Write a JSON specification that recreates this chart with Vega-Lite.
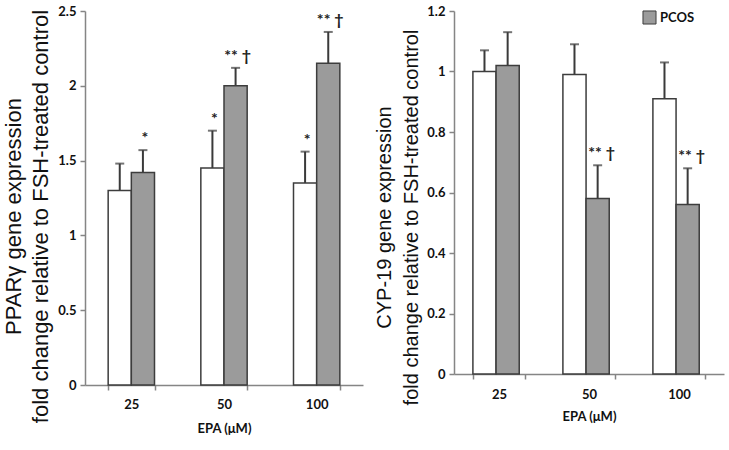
{
  "$schema": "https://vega.github.io/schema/vega-lite/v6.json",
  "background": "white",
  "padding": {"left": 2, "top": 5, "right": 4, "bottom": 4},
  "spacing": 11,
  "datasets": {
    "ppar": [
      {"dose": "25", "group": "Control", "value": 1.30, "upper": 1.48, "label": ""},
      {"dose": "25", "group": "PCOS", "value": 1.42, "upper": 1.57, "label": "*"},
      {"dose": "50", "group": "Control", "value": 1.45, "upper": 1.70, "label": "*"},
      {"dose": "50", "group": "PCOS", "value": 2.00, "upper": 2.12, "label": "** †"},
      {"dose": "100", "group": "Control", "value": 1.35, "upper": 1.56, "label": "*"},
      {"dose": "100", "group": "PCOS", "value": 2.15, "upper": 2.36, "label": "** †"}
    ],
    "cyp": [
      {"dose": "25", "group": "Control", "value": 1.00, "upper": 1.07, "label": ""},
      {"dose": "25", "group": "PCOS", "value": 1.02, "upper": 1.13, "label": ""},
      {"dose": "50", "group": "Control", "value": 0.99, "upper": 1.09, "label": ""},
      {"dose": "50", "group": "PCOS", "value": 0.58, "upper": 0.69, "label": "** †"},
      {"dose": "100", "group": "Control", "value": 0.91, "upper": 1.03, "label": ""},
      {"dose": "100", "group": "PCOS", "value": 0.56, "upper": 0.68, "label": "** †"}
    ]
  },
  "config": {
    "view": {"stroke": null},
    "axis": {
      "grid": false,
      "domainColor": "#858585",
      "domainWidth": 1.5,
      "tickColor": "#858585",
      "tickWidth": 1.5,
      "tickSize": 5,
      "labelFont": "Lato",
      "labelFontWeight": "bold",
      "labelFontSize": 13,
      "labelColor": "#111",
      "titleColor": "#111"
    }
  },
  "resolve": {"legend": {"fill": "independent"}},
  "hconcat": [
    {
      "width": 278,
      "height": 374,
      "data": {"name": "ppar"},
      "encoding": {
        "x": {
          "field": "dose", "type": "nominal", "sort": ["25", "50", "100"],
          "scale": {"paddingInner": 0.5, "paddingOuter": 0.25},
          "axis": {"title": "EPA (μM)", "labelAngle": 0, "tickBand": "extent", "labelPadding": 8,
                   "titleFont": "Lato", "titleFontWeight": "bold", "titleFontSize": 13, "titlePadding": 11}
        },
        "xOffset": {"field": "group", "type": "nominal", "sort": ["Control", "PCOS"]}
      },
      "layer": [
        {
          "mark": {"type": "rule", "color": "#3a3a3a", "strokeWidth": 2},
          "encoding": {
            "y": {"field": "value", "type": "quantitative", "scale": {"domain": [0, 2.5], "nice": false}},
            "y2": {"field": "upper"}
          }
        },
        {
          "mark": {"type": "tick", "color": "#3a3a3a", "size": 9, "thickness": 2},
          "encoding": {"y": {"field": "upper", "type": "quantitative", "scale": {"domain": [0, 2.5], "nice": false}}}
        },
        {
          "mark": {"type": "bar", "stroke": "#3d3d3d", "strokeWidth": 1.5},
          "encoding": {
            "y": {
              "field": "value", "type": "quantitative",
              "scale": {"domain": [0, 2.5], "nice": false},
              "axis": {
                "values": [0, 0.5, 1, 1.5, 2, 2.5], "format": "~g",
                "title": ["PPARγ gene expression", "fold change relative to FSH-treated control"],
                "titleFont": "Liberation Sans", "titleFontSize": 22, "titleFontWeight": "normal",
                "titleLineHeight": 27, "titlePadding": 5, "labelPadding": 4, "titleY": 205
              }
            },
            "fill": {
              "field": "group", "type": "nominal",
              "scale": {"domain": ["Control", "PCOS"], "range": ["white", "#9b9b9b"]},
              "legend": null
            }
          }
        },
        {
          "transform": [{"filter": "datum.label != ''"}],
          "mark": {"type": "text", "baseline": "bottom", "dy": -4, "dx": 2, "font": "Lato", "fontSize": 16, "fontWeight": "bold", "color": "#222"},
          "encoding": {
            "y": {"field": "upper", "type": "quantitative", "scale": {"domain": [0, 2.5], "nice": false}},
            "text": {"field": "label"}
          }
        }
      ]
    },
    {
      "width": 270,
      "height": 363,
      "data": {"name": "cyp"},
      "encoding": {
        "x": {
          "field": "dose", "type": "nominal", "sort": ["25", "50", "100"],
          "scale": {"paddingInner": 0.42, "paddingOuter": 0.21},
          "axis": {"title": "EPA (μM)", "labelAngle": 0, "tickBand": "extent", "labelPadding": 9,
                   "titleFont": "Lato", "titleFontWeight": "bold", "titleFontSize": 13, "titlePadding": 9}
        },
        "xOffset": {"field": "group", "type": "nominal", "sort": ["Control", "PCOS"]}
      },
      "layer": [
        {
          "mark": {"type": "rule", "color": "#3a3a3a", "strokeWidth": 2},
          "encoding": {
            "y": {"field": "value", "type": "quantitative", "scale": {"domain": [0, 1.2], "nice": false}},
            "y2": {"field": "upper"}
          }
        },
        {
          "mark": {"type": "tick", "color": "#3a3a3a", "size": 9, "thickness": 2},
          "encoding": {"y": {"field": "upper", "type": "quantitative", "scale": {"domain": [0, 1.2], "nice": false}}}
        },
        {
          "mark": {"type": "bar", "stroke": "#3d3d3d", "strokeWidth": 1.5},
          "encoding": {
            "y": {
              "field": "value", "type": "quantitative",
              "scale": {"domain": [0, 1.2], "nice": false},
              "axis": {
                "values": [0, 0.2, 0.4, 0.6, 0.8, 1, 1.2], "format": "~g",
                "title": ["CYP-19 gene expression", "fold change relative to FSH-treated control"],
                "titleFont": "Liberation Sans", "titleFontSize": 20, "titleFontWeight": "normal",
                "titleLineHeight": 27, "titlePadding": 5, "labelPadding": 4, "titleY": 206
              }
            },
            "fill": {
              "field": "group", "type": "nominal",
              "scale": {"domain": ["Control", "PCOS"], "range": ["white", "#9b9b9b"]},
              "legend": {
                "values": ["PCOS"], "title": null, "orient": "none", "legendX": 188, "legendY": -1,
                "symbolType": "square", "symbolSize": 170, "symbolStrokeColor": "#3d3d3d", "symbolStrokeWidth": 1,
                "labelFont": "Lato", "labelFontWeight": "bold", "labelFontSize": 13, "labelColor": "#111", "labelOffset": 3
              }
            }
          }
        },
        {
          "transform": [{"filter": "datum.label != ''"}],
          "mark": {"type": "text", "baseline": "bottom", "dy": -4, "dx": 4, "font": "Lato", "fontSize": 16, "fontWeight": "bold", "color": "#222"},
          "encoding": {
            "y": {"field": "upper", "type": "quantitative", "scale": {"domain": [0, 1.2], "nice": false}},
            "text": {"field": "label"}
          }
        }
      ]
    }
  ]
}
